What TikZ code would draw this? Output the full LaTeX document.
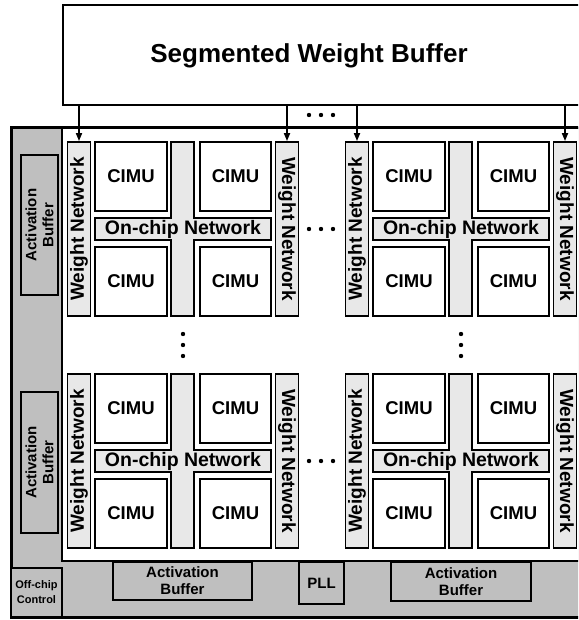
\documentclass[tikz,border=0pt]{standalone}
\usepackage{fontspec}
\setmainfont{Liberation Sans}
\usetikzlibrary{arrows.meta}
\definecolor{darkfill}{gray}{0.75}
\definecolor{lightfill}{gray}{0.91}
\begin{document}
\begin{tikzpicture}[x=1pt,y=-1pt,
  bx/.style={draw,line width=1.8pt,inner sep=0pt},
  cimu/.style={bx,fill=white,minimum width=71.5,minimum height=69,font=\fontsize{18.5}{20}\selectfont\bfseries},
  wnbox/.style={bx,fill=lightfill,minimum width=23,minimum height=174},
  wntext/.style={inner sep=0pt,font=\fontsize{19}{20}\selectfont\bfseries},
  ocntext/.style={inner sep=0pt,font=\fontsize{19.5}{20}\selectfont\bfseries},
  gbox/.style={bx,fill=darkfill,align=center,font=\fontsize{15}{17}\selectfont\bfseries},
  arr/.style={line width=1.7pt,-{Triangle[length=8pt,width=6pt]}},
  dot/.style={fill=black}
]
\useasboundingbox (0,0) rectangle (578,620);
\clip (0,0) rectangle (578,620);

% segmented weight buffer
\node[bx,fill=white,minimum width=527,minimum height=100] (buf) at (326.5,55) {};
\node[inner sep=0pt,font=\fontsize{26}{28}\selectfont\bfseries] (buflabel) at (309,56) {Segmented Weight Buffer};

% chip frame
\draw[line width=3pt,fill=darkfill] (11,128) rectangle (600,617);
\draw[line width=2pt,fill=white] (62,128) rectangle (600,561);

% clusters
\foreach \i/\dx/\dy in {1/0/0,2/278/0,3/0/232,4/278/232}{
  \draw[line width=1.8pt,fill=lightfill]
    (171+\dx,142+\dy) -- (194+\dx,142+\dy) -- (194+\dx,218+\dy) -- (271+\dx,218+\dy)
    -- (271+\dx,240+\dy) -- (194+\dx,240+\dy) -- (194+\dx,316+\dy) -- (171+\dx,316+\dy)
    -- (171+\dx,240+\dy) -- (95+\dx,240+\dy) -- (95+\dx,218+\dy) -- (171+\dx,218+\dy) -- cycle;
  \node[ocntext] (ocn\i) at (183+\dx,229.5+\dy) {On-chip Network};
  \node[cimu] (ctl\i) at (131+\dx,176.5+\dy) {CIMU};
  \node[cimu] (ctr\i) at (235.5+\dx,176.5+\dy) {CIMU};
  \node[cimu] (cbl\i) at (131+\dx,281.5+\dy) {CIMU};
  \node[cimu] (cbr\i) at (235.5+\dx,281.5+\dy) {CIMU};
  \node[wnbox] (wnL\i) at (79+\dx,229+\dy) {};
  \node[wntext,rotate=90] (wnLt\i) at (wnL\i) {Weight Network};
  \node[wnbox] (wnR\i) at (287+\dx,229+\dy) {};
  \node[wntext,rotate=-90] (wnRt\i) at (wnR\i) {Weight Network};
}

% arrows from buffer
\foreach \i in {1,2}{
  \draw[arr] (buf.south -| wnL\i.north) -- (wnL\i.north);
  \draw[arr] (buf.south -| wnR\i.north) -- (wnR\i.north);
}

% dots
\foreach \y in {115,229,461}{
  \foreach \x in {309,321,333}{\fill[dot] (\x,\y) circle (2.2);}
}
\foreach \x in {183,461}{
  \foreach \y in {334,345,356}{\fill[dot] (\x,\y) circle (2.2);}
}

% left activation buffers
\node[gbox,rotate=90,minimum width=140,minimum height=37] (abL1) at (39.5,225) {Activation\\Buffer};
\node[gbox,rotate=90,minimum width=141,minimum height=37] (abL2) at (39.5,462.5) {Activation\\Buffer};

% bottom row
\node[gbox,minimum width=139,minimum height=38] (abB1) at (182.5,581) {Activation\\Buffer};
\node[gbox,minimum width=140,minimum height=39] (abB2) at (461,581.5) {Activation\\Buffer};
\node[gbox,minimum width=45,minimum height=42] (pll) at (321.5,583) {PLL};
\node[gbox,minimum width=51,minimum height=49,font=\fontsize{11}{15}\selectfont\bfseries] (offchip) at (36.5,592.5) {Off-chip\\Control};
\end{tikzpicture}
\end{document}
